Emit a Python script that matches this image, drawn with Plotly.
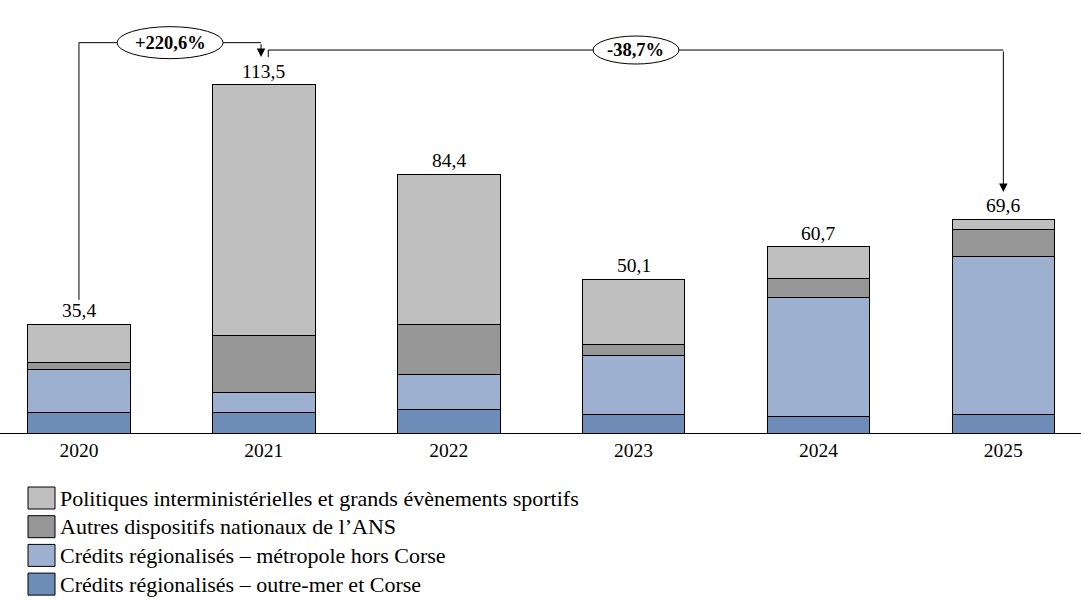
import plotly.graph_objects as go

years = ["2020", "2021", "2022", "2023", "2024", "2025"]
outre_mer = [6.7, 6.8, 7.5, 6.1, 5.4, 6.0]
metropole = [14.0, 6.5, 11.7, 19.2, 38.6, 51.5]
autres_ans = [2.3, 18.6, 16.0, 3.6, 6.2, 8.8]
politiques = [12.4, 81.6, 49.2, 21.2, 10.5, 3.3]
totals = [35.4, 113.5, 84.4, 50.1, 60.7, 69.6]

series = [
    ("Crédits régionalisés – outre-mer et Corse", outre_mer, "#6D8DB8"),
    ("Crédits régionalisés – métropole hors Corse", metropole, "#9DB0CF"),
    ("Autres dispositifs nationaux de l’ANS", autres_ans, "#979797"),
    ("Politiques interministérielles et grands évènements sportifs", politiques, "#BFBFBF"),
]

FONT = "Liberation Serif"
W, H = 1081, 601
PLOT_BOTTOM = 433  # px from top where the x axis sits


def fr(v, dec=1):
    return f"{v:.{dec}f}".replace(".", ",")


def py(px):
    # page pixel row -> paper y
    return (PLOT_BOTTOM - px) / PLOT_BOTTOM


x = list(range(len(years)))
fig = go.Figure()
for name, vals, color in series:
    fig.add_trace(go.Bar(
        x=x, y=vals, name=name, width=0.555,
        marker=dict(color=color, line=dict(color="black", width=1)),
        showlegend=False, hoverinfo="skip",
    ))

# totals above bars
for i, t in enumerate(totals):
    fig.add_annotation(x=i, y=t, text=fr(t), showarrow=False, yanchor="bottom",
                       yshift=1, font=dict(family=FONT, size=19.5, color="black"))

shapes = []
line = dict(color="black", width=1)

# evolution 2020 -> 2021
a, b = 0, 1
y_top1 = 127.2
shapes.append(dict(type="line", x0=a, x1=a, y0=totals[a] + 8, y1=y_top1, line=line))
shapes.append(dict(type="line", x0=a, x1=b - 0.015, y0=y_top1, y1=y_top1, line=line))
fig.add_annotation(x=b - 0.015, y=totals[b] + 9, ax=b - 0.015, ay=y_top1, axref="x", ayref="y",
                   showarrow=True, arrowhead=2, arrowsize=1.7, arrowwidth=1, arrowcolor="black",
                   standoff=0, text="")
pct1 = (totals[b] - totals[a]) / totals[a] * 100

# evolution 2021 -> 2025
c = 5
y_top2 = 124.8
shapes.append(dict(type="line", x0=b + 0.024, x1=b + 0.024, y0=totals[b] + 9, y1=y_top2, line=line))
shapes.append(dict(type="line", x0=b + 0.024, x1=c, y0=y_top2, y1=y_top2, line=line))
fig.add_annotation(x=c, y=totals[c] + 8.9, ax=c, ay=y_top2, axref="x", ayref="y",
                   showarrow=True, arrowhead=2, arrowsize=1.7, arrowwidth=1, arrowcolor="black",
                   standoff=0, text="")
pct2 = (totals[c] - totals[b]) / totals[b] * 100

for cx, cy, w, h, pct in [((a + b) / 2 - 0.007, y_top1, 106, 32, pct1),
                          ((b + c) / 2 + 0.013, y_top2, 86, 28, pct2)]:
    shapes.append(dict(type="circle", xref="x", yref="y", xsizemode="pixel", ysizemode="pixel",
                       xanchor=cx, yanchor=cy, x0=-w / 2, x1=w / 2, y0=-h / 2, y1=h / 2,
                       fillcolor="white", line=line))
    sign = "+" if pct > 0 else ""
    fig.add_annotation(x=cx, y=cy, text=f"<b>{sign}{fr(pct)}%</b>", showarrow=False,
                       font=dict(family=FONT, size=18.5, color="black"))

# legend drawn by hand (big swatches)
row0, pitch = 498, 28.7
for k, (name, vals, color) in enumerate(reversed(series)):
    yc = row0 + k * pitch
    shapes.append(dict(type="rect", xref="paper", yref="paper",
                       x0=28 / W, x1=55 / W, y0=py(yc + 11), y1=py(yc - 11),
                       fillcolor=color, line=line))
    fig.add_annotation(xref="paper", yref="paper", x=58 / W, y=py(yc), xanchor="left",
                       yanchor="middle", text=name, showarrow=False,
                       font=dict(family=FONT, size=22, color="black"))

fig.update_layout(
    width=W, height=H,
    margin=dict(l=0, r=0, t=0, b=H - PLOT_BOTTOM),
    plot_bgcolor="white", paper_bgcolor="white",
    barmode="stack",
    shapes=shapes,
    font=dict(family=FONT, size=19, color="black"),
    xaxis=dict(range=[-0.427, 5.42], tickvals=x, ticktext=years, showline=True,
               linecolor="black", linewidth=1, ticks="", showgrid=False, zeroline=False,
               tickfont=dict(family=FONT, size=19.5, color="black")),
    yaxis=dict(range=[0, 141.1], visible=False),
)

fig.write_html("out.html", config={"displayModeBar": False},
               post_script="document.body.style.margin='0';")
